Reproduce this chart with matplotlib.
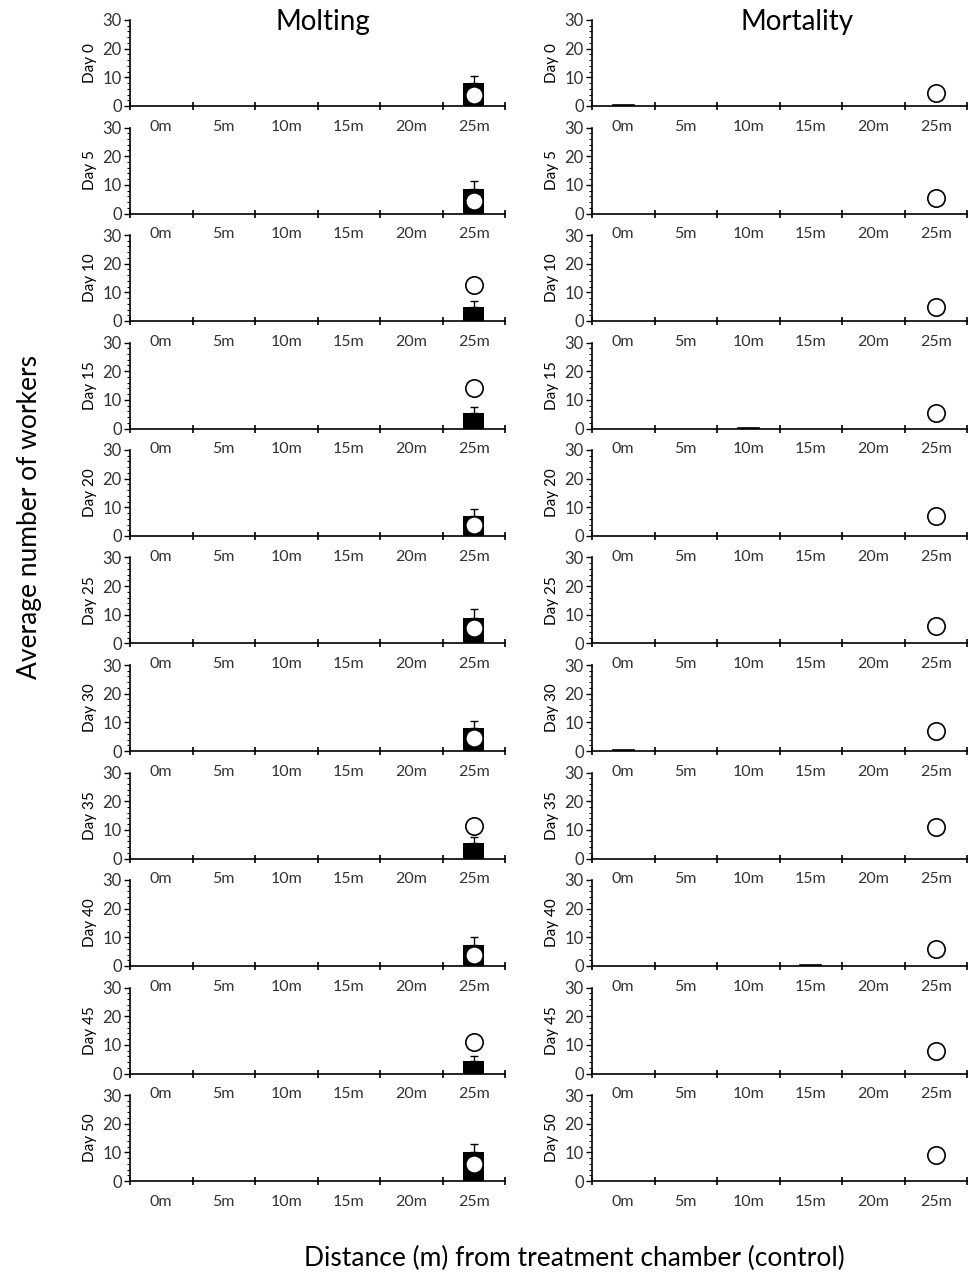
import numpy as np
import matplotlib
matplotlib.use("Agg")
import matplotlib.pyplot as plt
from matplotlib.ticker import MultipleLocator, FixedLocator

plt.rcParams["font.family"] = ["Lato", "DejaVu Sans"]

DAYS = ["Day 0", "Day 5", "Day 10", "Day 15", "Day 20", "Day 25",
        "Day 30", "Day 35", "Day 40", "Day 45", "Day 50"]
DIST = ["0m", "5m", "10m", "15m", "20m", "25m"]

# Molting: bar (treatment, at 25m), error bar, circle (control)
molt_bar = [8, 8.5, 5, 5.5, 7, 9, 8, 5.5, 7.5, 4.5, 10]
molt_err = [2.5, 3, 2, 2, 2.5, 3, 2.5, 2, 2.5, 1.5, 3]
molt_ctrl = [4, 4.5, 12.5, 14, 4, 5.5, 4.5, 11.5, 4, 11, 6]

# Mortality: tiny bars at some distances, circle (control)
mort_small = {0: (0, 0.3), 3: (2, 0.3), 6: (0, 0.5), 8: (3, 0.3)}
mort_ctrl = [4.5, 5.5, 5, 5.5, 7, 6, 7, 11, 6, 8, 9]

W, H = 973, 1274
fig = plt.figure(figsize=(W / 100, H / 100), dpi=100)

COLS = [(130, 505), (592, 967)]
TOP0, BOT0, STEP = 20, 106, 107.5


def style_axis(ax, day):
    ax.patch.set_visible(False)
    ax.set_xlim(-0.5, 5.5)
    ax.set_ylim(0, 30)
    for s in ["top", "right"]:
        ax.spines[s].set_visible(False)
    ax.spines["left"].set_linewidth(1.2)
    ax.spines["bottom"].set_linewidth(1.2)
    ax.yaxis.set_major_locator(MultipleLocator(10))
    ax.yaxis.set_minor_locator(MultipleLocator(2))
    ax.tick_params(axis="y", which="major", direction="out", length=4,
                   width=1, labelsize=12, pad=2, labelcolor="#333333")
    ax.tick_params(axis="y", which="minor", direction="out", length=2.5, width=0.8)
    ax.xaxis.set_major_locator(FixedLocator(np.arange(-0.5, 6.0, 1)))
    ax.xaxis.set_minor_locator(FixedLocator(np.arange(6)))
    ax.set_xticklabels([], minor=False)
    ax.set_xticklabels(DIST, minor=True)
    ax.tick_params(axis="x", which="major", direction="inout", length=6, width=1.2)
    ax.tick_params(axis="x", which="minor", length=0, labelsize=11.5, pad=10,
                   labelcolor="#333333")
    ax.set_ylabel(day, fontsize=11, labelpad=4)


x = np.arange(len(DIST))
for i, day in enumerate(DAYS):
    top = TOP0 + i * STEP
    bot = BOT0 + i * STEP
    for c, (x0, x1) in enumerate(COLS):
        ax = fig.add_axes([x0 / W, 1 - bot / H, (x1 - x0) / W, (bot - top) / H])
        style_axis(ax, day)
        if c == 0:
            vals = np.zeros(len(DIST)); vals[5] = molt_bar[i]
            errs = np.zeros(len(DIST)); errs[5] = molt_err[i]
            ax.bar(x, vals, width=0.34, color="black", zorder=2)
            ax.errorbar(x[5:], vals[5:], yerr=[[0], errs[5:]], fmt="none",
                        ecolor="black", elinewidth=1, capsize=3, capthick=1, zorder=2)
            ax.plot(x[5], molt_ctrl[i], "o", ms=12.5, mfc="white", mec="black",
                    mew=1.2, zorder=3, clip_on=False)
        else:
            if i in mort_small:
                k, v = mort_small[i]
                ax.bar(x[k], v, width=0.34, color="black", edgecolor="black",
                       linewidth=1.2, zorder=2)
            ax.plot(x[5], mort_ctrl[i], "o", ms=12.5, mfc="white", mec="black",
                    mew=1.2, zorder=3, clip_on=False)

fig.text((130 + 505) / 2 / W + 0.006, 1 - 22 / H, "Molting", ha="center", va="center", fontsize=20)
fig.text((592 + 967) / 2 / W + 0.018, 1 - 22 / H, "Mortality", ha="center", va="center", fontsize=20)
fig.text(30 / W, 1 - 517 / H, "Average number of workers", rotation=90,
         ha="center", va="center", fontsize=19)
fig.text(574 / W, 1 - 1258 / H, "Distance (m) from treatment chamber (control)",
         ha="center", va="center", fontsize=19)

plt.savefig("out.png", dpi=100)
plt.close()
